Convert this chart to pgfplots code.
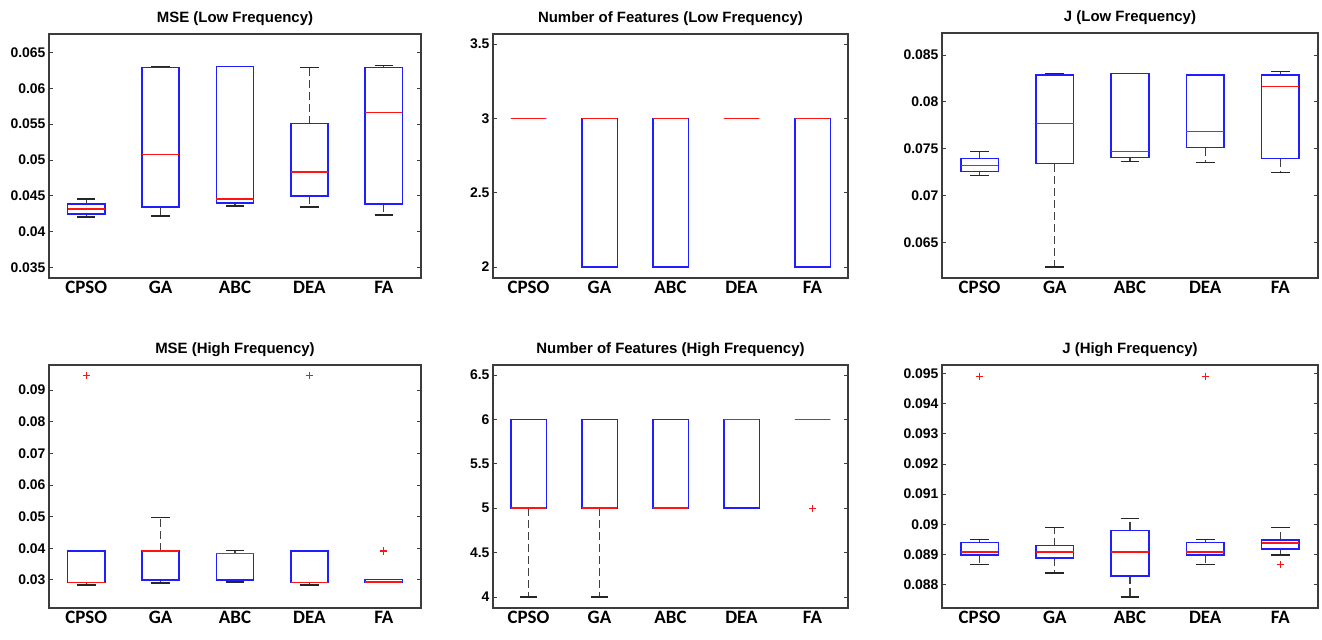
\documentclass[border=0pt]{standalone}
\usepackage{fontspec}
\setmainfont{Liberation Sans}
\newfontfamily\calib{Carlito}
\usepackage{pgfplots}
\pgfplotsset{compat=1.18}
\usepgfplotslibrary{statistics}

\definecolor{boxblue}{RGB}{30,30,255}
\definecolor{medred}{RGB}{255,20,20}
\definecolor{framegray}{RGB}{60,60,60}

% matlab-like boxes: whiskers first, then box, then median on top
\pgfplotsset{
  boxplot/draw direction=y,
  boxplot/box extend=0.5,
  boxplot/whisker extend=0.25,
  boxplot/draw/lower whisker/.code={},
  boxplot/draw/upper whisker/.code={},
  boxplot/draw/median/.code={},
  boxplot/draw/box/.code={%
    \draw[black!75, line width=1.1bp, dash pattern=on 8bp off 4bp]
      (boxplot box cs:\pgfplotsboxplotvalue{lower quartile},0.5)
      -- (boxplot box cs:\pgfplotsboxplotvalue{lower whisker},0.5)
      (boxplot box cs:\pgfplotsboxplotvalue{upper quartile},0.5)
      -- (boxplot box cs:\pgfplotsboxplotvalue{upper whisker},0.5);
    \draw[black!85, line width=1.3bp, solid]
      (boxplot whisker cs:\pgfplotsboxplotvalue{lower whisker},0)
      -- (boxplot whisker cs:\pgfplotsboxplotvalue{lower whisker},1)
      (boxplot whisker cs:\pgfplotsboxplotvalue{upper whisker},0)
      -- (boxplot whisker cs:\pgfplotsboxplotvalue{upper whisker},1);
    \draw[boxblue, line width=1.5bp, solid]
      (boxplot box cs:\pgfplotsboxplotvalue{lower quartile},0)
      rectangle (boxplot box cs:\pgfplotsboxplotvalue{upper quartile},1);
    \draw[medred, line width=1.5bp, solid]
      (boxplot box cs:\pgfplotsboxplotvalue{median},0)
      -- (boxplot box cs:\pgfplotsboxplotvalue{median},1);
  },
  panel/.style={
    scale only axis, anchor=south west,
    xmin=0.5, xmax=5.5,
    xtick={1,2,3,4,5},
    xticklabels={CPSO,GA,ABC,DEA,FA},
    xtick style={draw=none},
    ytick style={framegray, line width=0.9bp},
    major tick length=4bp,
    tick align=inside,
    scaled y ticks=false,
    axis line style={framegray, line width=1.5bp},
    xticklabel style={font=\calib\bfseries\fontsize{19}{19}\selectfont},
    yticklabel style={font=\bfseries\fontsize{14}{14}\selectfont},
    title style={font=\bfseries\fontsize{15}{15}\selectfont, yshift=-1bp},
  },
  outl/.style={mark=+, mark size=3.5bp, mark options={medred, solid, line width=1.1bp}},
}

\begin{document}
\begin{tikzpicture}
\path[use as bounding box] (0,0) rectangle (1322bp,640bp);

% ---- MSE low
\begin{axis}[panel, at={(49bp,362bp)}, width=372bp, height=244bp,
  title={MSE (Low Frequency)},
  ymin=0.03357, ymax=0.06755,
  ytick={0.035,0.04,0.045,0.05,0.055,0.06,0.065},
  yticklabels={0.035,0.04,0.045,0.05,0.055,0.06,0.065}]
\addplot[boxplot prepared={draw position=1, lower whisker=0.04206, lower quartile=0.04248, median=0.04317, upper quartile=0.04387, upper whisker=0.04457}] coordinates {};
\addplot[boxplot prepared={draw position=2, lower whisker=0.0422, lower quartile=0.04345, median=0.05074, upper quartile=0.06286, upper whisker=0.0630}] coordinates {};
\addplot[boxplot prepared={draw position=3, lower whisker=0.0436, lower quartile=0.04401, median=0.04457, upper quartile=0.0630, upper whisker=0.0630}] coordinates {};
\addplot[boxplot prepared={draw position=4, lower whisker=0.04345, lower quartile=0.04498, median=0.04833, upper quartile=0.05506, upper whisker=0.06286}] coordinates {};
\addplot[boxplot prepared={draw position=5, lower whisker=0.04234, lower quartile=0.04387, median=0.05659, upper quartile=0.06286, upper whisker=0.06314}] coordinates {};
\end{axis}

% ---- Number of features low
\begin{axis}[panel, at={(493bp,362bp)}, width=355bp, height=244bp,
  title={Number of Features (Low Frequency)},
  ymin=1.926, ymax=3.568,
  ytick={2,2.5,3,3.5}, yticklabels={2,2.5,3,3.5}]
\addplot[boxplot prepared={draw position=1, lower whisker=3, lower quartile=3, median=3, upper quartile=3, upper whisker=3}] coordinates {};
\addplot[boxplot prepared={draw position=2, lower whisker=2, lower quartile=2, median=3, upper quartile=3, upper whisker=3}] coordinates {};
\addplot[boxplot prepared={draw position=3, lower whisker=2, lower quartile=2, median=3, upper quartile=3, upper whisker=3}] coordinates {};
\addplot[boxplot prepared={draw position=4, lower whisker=3, lower quartile=3, median=3, upper quartile=3, upper whisker=3}] coordinates {};
\addplot[boxplot prepared={draw position=5, lower whisker=2, lower quartile=2, median=3, upper quartile=3, upper whisker=3}] coordinates {};
\end{axis}

% ---- J low
\begin{axis}[panel, at={(942bp,362bp)}, width=376bp, height=245bp,
  title={J (Low Frequency)},
  ymin=0.06118, ymax=0.08736,
  ytick={0.065,0.07,0.075,0.08,0.085},
  yticklabels={0.065,0.07,0.075,0.08,0.085}]
\addplot[boxplot prepared={draw position=1, lower whisker=0.07211, lower quartile=0.07254, median=0.07318, upper quartile=0.07393, upper whisker=0.07468}] coordinates {};
\addplot[boxplot prepared={draw position=2, lower whisker=0.06236, lower quartile=0.07339, median=0.07768, upper quartile=0.08289, upper whisker=0.08304}] coordinates {};
\addplot[boxplot prepared={draw position=3, lower whisker=0.07361, lower quartile=0.07404, median=0.07468, upper quartile=0.08304, upper whisker=0.08304}] coordinates {};
\addplot[boxplot prepared={draw position=4, lower whisker=0.0735, lower quartile=0.07511, median=0.07686, upper quartile=0.08289, upper whisker=0.08289}] coordinates {};
\addplot[boxplot prepared={draw position=5, lower whisker=0.07243, lower quartile=0.07393, median=0.08164, upper quartile=0.08289, upper whisker=0.08321}] coordinates {};
\end{axis}

% ---- MSE high
\begin{axis}[panel, at={(49bp,32bp)}, width=372bp, height=243bp,
  title={MSE (High Frequency)},
  ymin=0.02114, ymax=0.0979,
  ytick={0.03,0.04,0.05,0.06,0.07,0.08,0.09},
  yticklabels={0.03,0.04,0.05,0.06,0.07,0.08,0.09}]
\addplot[outl, boxplot prepared={draw position=1, lower whisker=0.02842, lower quartile=0.02916, median=0.02916, upper quartile=0.03907, upper whisker=0.03928}] table[row sep=\\, y index=0] {0.09453\\};
\addplot[boxplot prepared={draw position=2, lower whisker=0.02905, lower quartile=0.0300, median=0.0392, upper quartile=0.03928, upper whisker=0.04983}] coordinates {};
\addplot[boxplot prepared={draw position=3, lower whisker=0.02937, lower quartile=0.0300, median=0.0383, upper quartile=0.03833, upper whisker=0.03928}] coordinates {};
\addplot[outl, boxplot prepared={draw position=4, lower whisker=0.02842, lower quartile=0.02916, median=0.02916, upper quartile=0.03907, upper whisker=0.03928}] table[row sep=\\, y index=0] {0.09453\\};
\addplot[outl, boxplot prepared={draw position=5, lower whisker=0.0291, lower quartile=0.0294, median=0.0294, upper quartile=0.0301, upper whisker=0.0301}] table[row sep=\\, y index=0] {0.0390\\ 0.0392\\};
\end{axis}

% ---- Number of features high
\begin{axis}[panel, at={(493bp,32bp)}, width=355bp, height=243bp,
  title={Number of Features (High Frequency)},
  ymin=3.876, ymax=6.613,
  ytick={4,4.5,5,5.5,6,6.5}, yticklabels={4,4.5,5,5.5,6,6.5}]
\addplot[boxplot prepared={draw position=1, lower whisker=4, lower quartile=5, median=5, upper quartile=6, upper whisker=6}] coordinates {};
\addplot[boxplot prepared={draw position=2, lower whisker=4, lower quartile=5, median=5, upper quartile=6, upper whisker=6}] coordinates {};
\addplot[boxplot prepared={draw position=3, lower whisker=5, lower quartile=5, median=5, upper quartile=6, upper whisker=6}] coordinates {};
\addplot[boxplot prepared={draw position=4, lower whisker=5, lower quartile=5, median=6, upper quartile=6, upper whisker=6}] coordinates {};
\addplot[outl, boxplot prepared={draw position=5, lower whisker=6, lower quartile=6, median=6, upper quartile=6, upper whisker=6}] table[row sep=\\, y index=0] {5\\};
\end{axis}

% ---- J high
\begin{axis}[panel, at={(942bp,32bp)}, width=376bp, height=243bp,
  title={J (High Frequency)},
  ymin=0.08723, ymax=0.09528,
  ytick={0.088,0.089,0.09,0.091,0.092,0.093,0.094,0.095},
  yticklabels={0.088,0.089,0.09,0.091,0.092,0.093,0.094,0.095}]
\addplot[outl, boxplot prepared={draw position=1, lower whisker=0.08868, lower quartile=0.08899, median=0.08908, upper quartile=0.0894, upper whisker=0.08949}] table[row sep=\\, y index=0] {0.0949\\};
\addplot[boxplot prepared={draw position=2, lower whisker=0.08839, lower quartile=0.08889, median=0.08908, upper quartile=0.0893, upper whisker=0.0899}] coordinates {};
\addplot[boxplot prepared={draw position=3, lower whisker=0.08759, lower quartile=0.08829, median=0.08908, upper quartile=0.0898, upper whisker=0.0902}] coordinates {};
\addplot[outl, boxplot prepared={draw position=4, lower whisker=0.08868, lower quartile=0.08899, median=0.08908, upper quartile=0.0894, upper whisker=0.08949}] table[row sep=\\, y index=0] {0.0949\\};
\addplot[outl, boxplot prepared={draw position=5, lower whisker=0.08899, lower quartile=0.08919, median=0.08939, upper quartile=0.08949, upper whisker=0.0899}] table[row sep=\\, y index=0] {0.08868\\};
\end{axis}
\end{tikzpicture}
\end{document}
